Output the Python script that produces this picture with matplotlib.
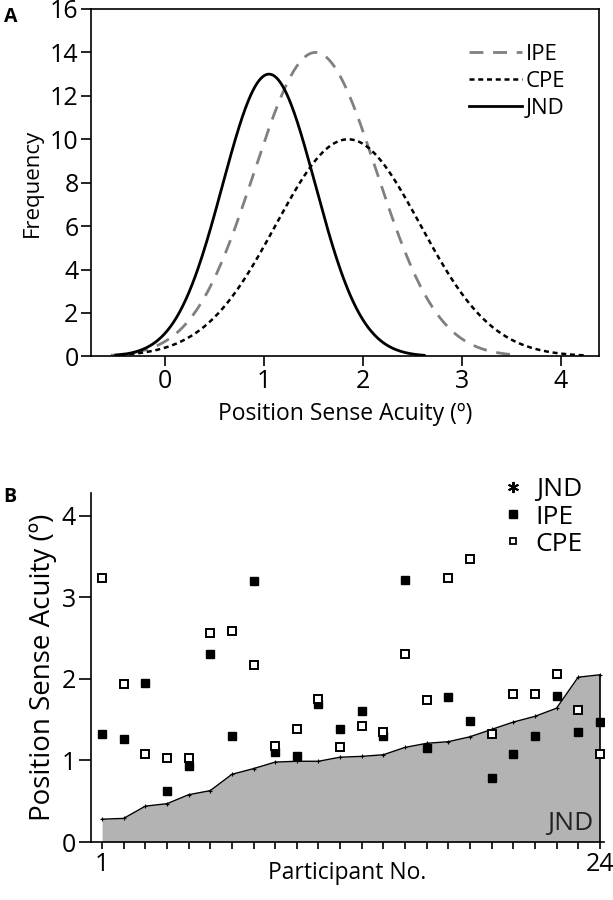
import numpy as np
import matplotlib
matplotlib.use("Agg")
import matplotlib.pyplot as plt

plt.rcParams['font.family'] = ['Open Sans', 'DejaVu Sans']

# panel A: fitted normal curves (peak, mean, sd, range drawn)
curve_names = ["IPE", "CPE", "JND"]
curve_peak = [14, 10, 13]
curve_mean = [1.52, 1.85, 1.05]
curve_sd = [0.62, 0.73, 0.47]
curve_start = [-0.55, -0.45, -0.5]
curve_end = [3.57, 4.24, 2.62]

# panel B: per participant values
participants = list(range(1, 25))
jnd = [0.28, 0.29, 0.44, 0.47, 0.58, 0.63, 0.83, 0.90, 0.98, 0.99, 0.99, 1.04,
       1.05, 1.07, 1.16, 1.21, 1.23, 1.29, 1.38, 1.47, 1.54, 1.64, 2.02, 2.05]
ipe = [1.32, 1.26, 1.95, 0.62, 0.93, 2.31, 1.30, 3.20, 1.10, 1.06, 1.69, 1.39,
       1.60, 1.30, 3.21, 1.15, 1.78, 1.48, 0.79, 1.08, 1.30, 1.79, 1.35, 1.47]
cpe = [3.24, 1.94, 1.08, 1.03, 1.03, 2.56, 2.59, 2.17, 1.18, 1.39, 1.75, 1.17,
       1.42, 1.35, 2.31, 1.74, 3.24, 3.47, 1.33, 1.82, 1.82, 2.06, 1.62, 1.08]

fig = plt.figure(figsize=(6.13, 9), dpi=100)

# ---------- A ----------
ax1 = fig.add_axes([0.1485, 0.604, 0.829, 0.386])
styles = [dict(color='#808080', ls=(0, (5, 3.5)), lw=2),
          dict(color='black', ls=(0, (2, 1.5)), lw=1.8),
          dict(color='black', ls='-', lw=2)]
for i in range(3):
    xs = np.linspace(curve_start[i], curve_end[i], 300)
    ys = curve_peak[i] * np.exp(-(xs - curve_mean[i]) ** 2 / (2 * curve_sd[i] ** 2))
    ax1.plot(xs, ys, label=curve_names[i], **styles[i])
ax1.set_xlim(-0.75, 4.39)
ax1.set_ylim(0, 16)
ax1.set_xticks([0, 1, 2, 3, 4])
ax1.set_yticks(range(0, 17, 2))
ax1.tick_params(direction='out', length=7, width=1.2, labelsize=18, pad=2)
for s in ax1.spines.values():
    s.set_linewidth(1.2)
ax1.set_xlabel("Position Sense Acuity (º)", fontsize=16.5, labelpad=6)
ax1.set_ylabel("Frequency", fontsize=16, labelpad=5)
ax1.legend(loc='upper right', frameon=False, fontsize=16, handlelength=2.4,
           handletextpad=0.15, labelspacing=0.28, borderpad=0,
           bbox_to_anchor=(0.955, 0.932))
fig.text(0.006, 0.976, "A", fontsize=14, fontweight='bold')

# ---------- B ----------
ax2 = fig.add_axes([0.1485, 0.0644, 0.837, 0.388])
ax2.fill_between(participants, 0, jnd, color='#b3b3b3', lw=0)
ax2.plot(participants, jnd, color='black', lw=1, marker='+', ms=3, mew=0.8,
         label="JND")
ax2.vlines(participants[-1], 0, jnd[-1], color='black', lw=1.2)
ax2.plot(participants, ipe, ls='none', marker='s', ms=6, color='black',
         label="IPE")
ax2.plot(participants, cpe, ls='none', marker='s', ms=6, mfc='white',
         mec='black', mew=1.4, label="CPE")
ax2.set_xlim(0.49, 24.2)
ax2.set_ylim(0, 4.28)
ax2.set_xticks([1, 24])
ax2.set_xticks(participants[1:-1], minor=True)
ax2.set_yticks([0, 1, 2, 3, 4])
ax2.tick_params(axis='x', which='both', direction='out', length=5, width=1.2,
                labelsize=18, pad=2)
ax2.tick_params(axis='y', direction='out', length=9, width=1.2,
                labelsize=18, pad=2)
ax2.spines['top'].set_visible(False)
ax2.spines['right'].set_visible(False)
for s in ['left', 'bottom']:
    ax2.spines[s].set_linewidth(1.2)
ax2.set_xlabel("Participant No.", fontsize=16.5, labelpad=-11)
ax2.set_ylabel("Position Sense Acuity (º)", fontsize=20, labelpad=3)
ax2.text(23.7, 0.15, "JND", fontsize=19, ha='right', color='#222222')

# legend handles
h_jnd, = ax2.plot([], [], ls='none', marker=(6, 2, 0), ms=8, mew=1.4,
                  color='black')
h_ipe, = ax2.plot([], [], ls='none', marker='s', ms=5.5, color='black')
h_cpe, = ax2.plot([], [], ls='none', marker='s', ms=5, mfc='white',
                  mec='black', mew=1.3)
ax2.legend([h_jnd, h_ipe, h_cpe], ["JND", "IPE", "CPE"], loc='upper left',
           frameon=False, fontsize=19, handlelength=0.6, handletextpad=0.55,
           labelspacing=0.08, borderpad=0, bbox_to_anchor=(0.782, 1.082))
fig.text(0.006, 0.442, "B", fontsize=14, fontweight='bold')

fig.savefig("out.png", dpi=100)
